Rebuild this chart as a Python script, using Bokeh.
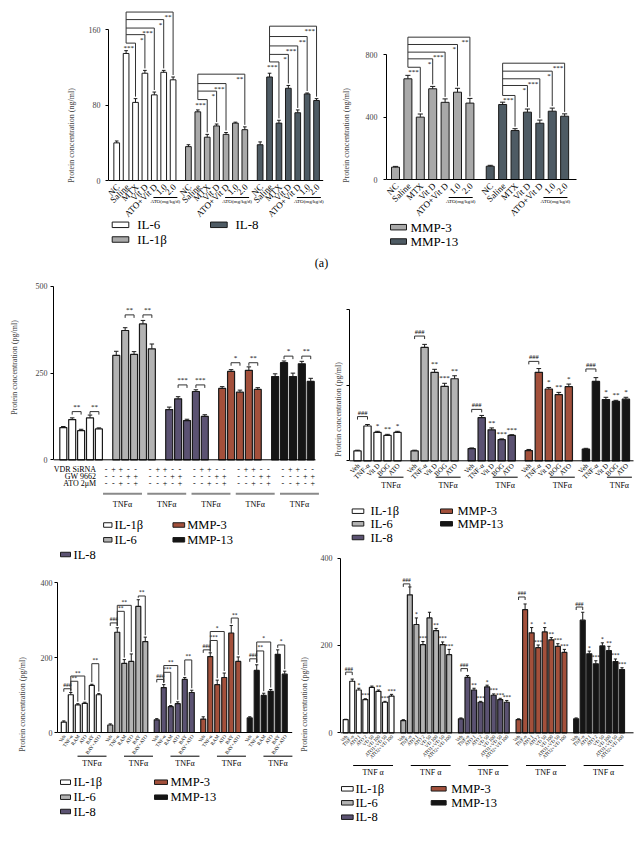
import numpy as np
from bokeh.plotting import figure
from bokeh.models import Range1d, LinearAxis, FixedTicker
from bokeh.layouts import row, column
from bokeh.embed import file_html
from bokeh.resources import INLINE
from bokeh.core.properties import value

SERIF = "Liberation Serif"

# ---------------- DATA ----------------
# (a) left: ng/ml
a_cats = ["NC", "Saline", "MTX", "Vit D", "ATO+Vit D", "1.0", "2.0"]
a1_series = ["IL-6", "IL-1β", "IL-8"]
a1_vals = [[40, 135, 83, 114, 91, 115, 107],
           [36, 73, 46, 58, 49, 61, 54],
           [38, 110, 61, 98, 72, 92, 85]]
a1_errs = [[2, 3, 4, 3, 3, 2, 3],
           [2, 2, 3, 2, 2, 1, 3],
           [3, 4, 3, 3, 3, 1, 2]]
a1_targets = [[2, 3, 4, 5, 6], [2, 3, 4, 6], [2, 3, 4, 5, 6]]
a1_levels = [[146, 155, 162, 171, 179], [86, 95, 103, 113], [126, 134, 143, 153, 164]]
a1_marks = [["***", "*", "***", "*", "**"], ["***", "*", "***", "**"], ["***", "*", "***", "**", "***"]]
a_sub = "ATO(mg/kg/d)"

# (a) right: ng/ml
a2_series = ["MMP-3", "MMP-13"]
a2_vals = [[79, 646, 400, 582, 495, 560, 490],
           [85, 481, 314, 432, 361, 438, 406]]
a2_errs = [[5, 22, 20, 15, 22, 25, 30],
           [6, 15, 12, 20, 20, 20, 15]]
a2_targets = [[2, 3, 4, 5, 6], [2, 3, 4, 5, 6]]
a2_levels = [[720, 774, 817, 866, 913], [539, 603, 646, 695, 746]]
a2_marks = [["***", "*", "***", "*", "**"], ["***", "*", "***", "*", "***"]]

b_series = ["IL-1β", "IL-6", "IL-8", "MMP-3", "MMP-13"]

# (b) top-left
b1_rows = ["VDR SiRNA", "GW 9662", "ATO 2μM"]
b1_signs = [["-", "+", "+", "-", "-"],
            ["-", "-", "-", "+", "+"],
            ["-", "-", "+", "-", "+"]]
b1_vals = [[93, 116, 84, 121, 89],
           [301, 373, 304, 392, 320],
           [145, 176, 113, 197, 125],
           [206, 255, 195, 258, 203],
           [240, 280, 240, 277, 226]]
b1_errs = [[3, 5, 4, 8, 3],
           [12, 8, 8, 10, 14],
           [7, 6, 4, 5, 5],
           [5, 5, 6, 10, 5],
           [8, 5, 10, 7, 9]]
b1_levels = [139, 418, 216, 280, 299]
b1_marks = [["**", "**"], ["**", "**"], ["***", "***"], ["*", "**"], ["*", "**"]]

# (b) top-right
b2_cats = ["Veh", "TNF-α", "Vit D", "BOG", "ATO"]
b2_vals = [[26, 92, 75, 67, 75],
           [26, 300, 234, 197, 217],
           [32, 114, 82, 56, 67],
           [27, 234, 190, 175, 196],
           [31, 210, 162, 157, 163]]
b2_errs = [[2, 4, 3, 3, 3],
           [2, 8, 8, 8, 8],
           [2, 6, 5, 2, 2],
           [3, 10, 4, 6, 7],
           [2, 10, 6, 3, 5]]
b2_levels = [117, 330, 136, 263, 243]
b2_marks = [["*", "**", "*"], ["**", "***", "**"], ["**", "***", "***"], ["*", "**", "*"], ["*", "**", "*"]]

# (b) bottom-left
b3_cats = ["Veh", "TNF-α", "RAM", "ATO", "BAY", "BAY+ATO"]
b3_vals = [[28, 101, 74, 78, 126, 101],
           [20, 268, 185, 190, 337, 243],
           [34, 120, 69, 77, 142, 107],
           [36, 203, 128, 147, 266, 190],
           [39, 166, 99, 110, 209, 156]]
b3_errs = [[3, 6, 3, 3, 3, 3],
           [3, 12, 10, 20, 18, 12],
           [3, 8, 3, 5, 5, 6],
           [6, 10, 12, 12, 20, 12],
           [3, 15, 6, 5, 12, 8]]
b3_pairs = [(0, 1), (1, 2), (1, 3), (4, 5)]
b3_levels = [[117, 137, 151, 184], [293, 324, 340, 365], [142, 161, 179, 194],
             [221, 246, 270, 306], [197, 218, 242, 234]]
b3_marks = [["###", "**", "**", "**"], ["###", "**", "**", "**"], ["###", "***", "**", "**"],
            ["###", "***", "*", "**"], ["###", "**", "*", "*"]]

# (b) bottom-right
b4_cats = ["Veh", "TNF-α", "ATO 1", "ATO 2", "VD 50", "VD 100", "ATO1+VD 50", "ATO2+VD 100"]
b4_vals = [[30, 118, 98, 76, 104, 95, 70, 84],
           [28, 316, 248, 202, 263, 234, 202, 179],
           [32, 127, 98, 70, 105, 86, 76, 70],
           [30, 282, 229, 195, 231, 213, 198, 184],
           [32, 258, 181, 158, 199, 188, 163, 145]]
b4_errs = [[1, 5, 4, 2, 3, 3, 2, 4],
           [2, 18, 15, 7, 13, 5, 6, 12],
           [2, 4, 4, 2, 4, 3, 3, 4],
           [2, 13, 12, 6, 10, 5, 6, 7],
           [2, 18, 6, 7, 7, 10, 6, 4]]
b4_levels = [139, 341, 147, 311, 288]
b4_marks = [["*", "***", "", "**", "***", "***"],
            ["*", "***", "", "**", "***", "***"],
            ["**", "***", "*", "***", "***", "***"],
            ["*", "***", "*", "**", "***", "***"],
            ["*", "***", "*", "**", "***", "***"]]

# ---------------- STYLE ----------------
A_COLORS = ["#ffffff", "#a9a9a9", "#4e5b64"]
A2_COLORS = ["#a9a9a9", "#4e5b64"]
B_COLORS = ["#ffffff", "#b3b3b3", "#5b5272", "#a3503b", "#151515"]
EDGE = "#1a1a1a"
BR = "#333333"


class Panel:
    def __init__(self, fl, ft, W, H, ax, by, sy, sx, bx0, ticks=None, ylabel="",
                 lab_standoff=4, ax_standoff=8, show_labels=True):
        bl = int(round(ax - fl)) if ticks is not None else 0
        self.ax = fl + bl
        self.by, self.sy, self.sx, self.bx0 = by, sy, sx, bx0
        xr = Range1d((self.ax - bx0) / sx, (fl + W - bx0) / sx)
        yr = Range1d((by - (ft + H)) / sy, (by - ft) / sy)
        p = figure(width=W, height=H, x_range=xr, y_range=yr,
                   x_axis_location=None, y_axis_location=None,
                   toolbar_location=None, output_backend="svg",
                   min_border_left=bl, min_border_right=0,
                   min_border_top=0, min_border_bottom=0)
        p.outline_line_color = None
        p.grid.grid_line_color = None
        if ticks is not None:
            ax_ = LinearAxis(ticker=FixedTicker(ticks=ticks), bounds=(0, ticks[-1]),
                             axis_label=ylabel)
            ax_.major_tick_out = 3
            ax_.major_tick_in = 0
            ax_.minor_tick_out = 0
            ax_.minor_tick_in = 0
            ax_.axis_line_color = "black"
            ax_.major_tick_line_color = "black"
            ax_.major_label_text_font = SERIF
            ax_.major_label_text_font_size = "8px"
            ax_.major_label_standoff = lab_standoff
            ax_.axis_label_text_font = SERIF
            ax_.axis_label_text_font_size = "8px"
            ax_.axis_label_text_font_style = "normal"
            ax_.axis_label_standoff = ax_standoff
            if not show_labels:
                ax_.major_label_overrides = {t: "" for t in ticks}
            p.add_layout(ax_, "left")
        self.p = p

    def X(self, px):
        return (px - self.bx0) / self.sx

    def Y(self, py):
        return (self.by - py) / self.sy

    def dx(self, d):
        return d / self.sx

    def dy(self, d):
        return d / self.sy

    def seg(self, x0, y0, x1, y1, color=BR, width=1.0):
        self.p.segment(x0=list(x0), y0=list(y0), x1=list(x1), y1=list(y1),
                       line_color=color, line_width=width)

    def text(self, xs, ys, texts, size, align="center", baseline="middle", angle=0.0,
             color="black", style="normal"):
        self.p.text(x=list(xs), y=list(ys), text=list(texts), text_font=value(SERIF),
                    text_font_size=value(size), text_align=align, text_baseline=baseline,
                    angle=angle, text_color=color, text_font_style=style)

    def bars(self, xs, vals, errs, bw, color, lw=1.0):
        xs = np.asarray(xs, float)
        v = np.asarray(vals, float)
        e = np.asarray(errs, float)
        self.p.vbar(x=xs, top=v, bottom=0, width=self.dx(bw), fill_color=color,
                    line_color=EDGE, line_width=lw)
        self.p.segment(x0=xs, y0=v, x1=xs, y1=v + e, line_color=EDGE, line_width=1)
        cw = self.dx(bw * 0.32)
        self.p.segment(x0=xs - cw, y0=v + e, x1=xs + cw, y1=v + e, line_color=EDGE,
                       line_width=1)

    def baseline(self, right_px):
        self.seg([self.X(self.ax)], [0], [self.X(right_px)], [0], color="black")

    def legend(self, x0, x1, y, h, color, tx, label, size):
        self.p.rect(x=[self.X((x0 + x1) / 2)], y=[self.Y(y)], width=self.dx(x1 - x0),
                    height=self.dy(h), fill_color=color, line_color=EDGE, line_width=1)
        self.text([self.X(tx)], [self.Y(y)], [label], size, align="left")


def deg(a):
    return np.deg2rad(a)


# ================= (a) left =================
A1 = Panel(0, 0, 334, 270, 108, 180, 0.941, 9.4, 116.2, [0, 80, 160],
           "Protein concentration (ng/ml)", 5, 10)
step = 7.63
for g in range(3):
    xs = g * step + np.arange(7)
    A1.bars(xs, a1_vals[g], a1_errs[g], 5.7, A_COLORS[g])
    xa = xs[1]
    lv = a1_levels[g]
    for t, L, m in zip(a1_targets[g], lv, a1_marks[g]):
        xt = xs[t]
        tt = a1_vals[g][t] + a1_errs[g][t]
        A1.seg([xa, xt], [L, L], [xt, xt], [L, tt + A1.dy(2)])
        A1.text([xt - A1.dx(1.5)], [L - A1.dy(1)], [m], "7px", align="right", baseline="top")
    A1.seg([xa], [max(lv)], [xa], [min(lv)])
    A1.text(xs + A1.dx(1.5), [-A1.dy(5)] * 7, a_cats, "9px", align="right",
            baseline="middle", angle=deg(45))
    c = g * step + 5.5 - A1.dx(3)
    A1.seg([c - A1.dx(12)], [A1.Y(197)], [c + A1.dx(12)], [A1.Y(197)], color="black")
    A1.text([c], [A1.Y(198.5)], [a_sub], "5px", baseline="top")
A1.baseline(322.7)
A1.legend(111.7, 128.3, 224.3, 5.5, A_COLORS[0], 136.7, a1_series[0], "13px")
A1.legend(111.7, 128.3, 239.0, 5.5, A_COLORS[1], 136.7, a1_series[1], "13px")
A1.legend(210.0, 226.7, 224.3, 5.5, A_COLORS[2], 235.0, a1_series[2], "13px")
A1.text([A1.X(321)], [A1.Y(262)], ["(a)"], "12px")

# ================= (a) right =================
A2 = Panel(334, 0, 306, 270, 386, 179, 0.1559, 12.4, 395, [0, 400, 800],
           "Protein concentration (ng/ml)", 6, 12)
step = 7.64
for g in range(2):
    xs = g * step + np.arange(7)
    A2.bars(xs, a2_vals[g], a2_errs[g], 8, A2_COLORS[g])
    xa = xs[1]
    lv = a2_levels[g]
    for t, L, m in zip(a2_targets[g], lv, a2_marks[g]):
        xt = xs[t]
        tt = a2_vals[g][t] + a2_errs[g][t]
        A2.seg([xa, xt], [L, L], [xt, xt], [L, tt + A2.dy(2)])
        A2.text([xt - A2.dx(1.5)], [L - A2.dy(1)], [m], "7px", align="right", baseline="top")
    A2.seg([xa], [max(lv)], [xa], [min(lv)])
    A2.text(xs + A2.dx(1.5), [-A2.dy(5)] * 7, a_cats, "9px", align="right",
            baseline="middle", angle=deg(45))
    c = g * step + 5.5 - A2.dx(3)
    A2.seg([c - A2.dx(12)], [A2.Y(197)], [c + A2.dx(12)], [A2.Y(197)], color="black")
    A2.text([c], [A2.Y(198.5)], [a_sub], "5px", baseline="top")
A2.baseline(576)
A2.legend(390, 406, 226.7, 5.5, A2_COLORS[0], 410, a2_series[0], "13px")
A2.legend(390, 406, 241.0, 5.5, A2_COLORS[1], 410, a2_series[1], "13px")

# ================= (b) top-left (bars + axis) =================
B1 = Panel(0, 270, 322, 194, 53, 459.3, 0.3467, 8.9, 62.8, [0, 250, 500],
           "Protein concentration (pg/ml)", 3, 14)
# table / legend part under it (same horizontal scale, no axis)
B1b = Panel(0, 464, 322, 84, 0, 459.3, 0.3467, 8.9, 62.8)
step = 5.95
row_y = [468.5, 475.5, 482.5]
for g in range(5):
    xs = g * step + np.arange(5)
    B1.bars(xs, b1_vals[g], b1_errs[g], 7, B_COLORS[g], lw=1.2)
    L = b1_levels[g]
    for (a, b), m in zip([(1, 2), (3, 4)], b1_marks[g]):
        B1.seg([xs[a], xs[a], xs[b]], [L, L, L], [xs[b], xs[a], xs[b]],
               [L, L - B1.dy(3), L - B1.dy(3)])
        B1.text([(xs[a] + xs[b]) / 2], [L + B1.dy(1)], [m], "7px", baseline="bottom")
    for r in range(3):
        B1b.text(xs, [B1b.Y(row_y[r])] * 5, b1_signs[r], "8px")
    B1b.seg([xs[0] - B1b.dx(3.5)], [B1b.Y(493.3)], [xs[-1] + B1b.dx(7.5)], [B1b.Y(493.3)],
            color="#8a8a8a", width=2)
    B1b.text([(xs[0] + xs[-1]) / 2 + B1b.dx(2)], [B1b.Y(503.7)], ["TNFα"], "8px")
B1b.text([B1b.X(51)] * 3, [B1b.Y(y) for y in row_y], b1_rows, "8px", align="right")
B1.baseline(315)
B1b.legend(60, 70, 524.5, 4.5, B_COLORS[0], 73, b_series[0], "12.5px")
B1b.legend(60, 70, 539.3, 4.5, B_COLORS[1], 73, b_series[1], "12.5px")
B1b.legend(143, 157, 524.5, 4.5, B_COLORS[3], 160, b_series[3], "12.5px")
B1b.legend(143, 157, 539.3, 4.5, B_COLORS[4], 160, b_series[4], "12.5px")

# ================= (b) top-right =================
B2 = Panel(322, 270, 318, 278, 349, 460.3, 0.378, 10.0, 357, [0, 200, 400],
           "Protein concentration (pg/ml)", 2, 4, show_labels=False)
step = 5.71
for g in range(5):
    xs = g * step + np.arange(5)
    B2.bars(xs, b2_vals[g], b2_errs[g], 7.3, B_COLORS[g], lw=1.2)
    L = b2_levels[g]
    B2.seg([xs[0], xs[0], xs[1]], [L, L, L], [xs[1], xs[0], xs[1]],
           [L, L - B2.dy(3), L - B2.dy(3)])
    B2.text([(xs[0] + xs[1]) / 2], [L + B2.dy(1)], ["###"], "6.5px", baseline="bottom")
    for k, m in enumerate(b2_marks[g]):
        i = k + 2
        B2.text([xs[i]], [b2_vals[g][i] + b2_errs[g][i] + B2.dy(1)], [m], "7px",
                baseline="bottom")
    B2.text(xs + B2.dx(1.5), [-B2.dy(4)] * 5, b2_cats, "7px", align="right",
            baseline="middle", angle=deg(45))
    B2.seg([g * step + 2.1], [B2.Y(476.7)], [g * step + 4.6], [B2.Y(476.7)], color="black")
    B2.text([g * step + 3.35], [B2.Y(485)], ["TNFα"], "8px")
B2.baseline(633)
B2.legend(351.7, 363.3, 510.7, 4.5, B_COLORS[0], 370, b_series[0], "12.5px")
B2.legend(351.7, 363.3, 523.3, 4.5, B_COLORS[1], 370, b_series[1], "12.5px")
B2.legend(351.7, 363.3, 537.0, 4.5, B_COLORS[2], 370, b_series[2], "12.5px")
B2.legend(440, 452, 510.7, 4.5, B_COLORS[3], 457, b_series[3], "12.5px")
B2.legend(440, 452, 523.3, 4.5, B_COLORS[4], 457, b_series[4], "12.5px")

# ================= (b) bottom-left =================
B3 = Panel(0, 548, 296, 312, 57, 732, 0.374, 7.0, 63.3, [0, 200, 400],
           "Protein concentration (pg/ml)", 2, 11)
step = 6.64
for g in range(5):
    xs = g * step + np.arange(6)
    B3.bars(xs, b3_vals[g], b3_errs[g], 5, B_COLORS[g], lw=1.2)
    tops = np.asarray(b3_vals[g]) + np.asarray(b3_errs[g])
    for (a, b), L, m in zip(b3_pairs, b3_levels[g], b3_marks[g]):
        if a == 0:
            B3.seg([xs[a], xs[a], xs[b]], [L, L, L], [xs[b], xs[a], xs[b]],
                   [L, L - B3.dy(3), L - B3.dy(3)])
        else:
            B3.seg([xs[a], xs[a], xs[b]], [L, L, L], [xs[b], xs[a], xs[b]],
                   [L, tops[a] + B3.dy(2), tops[b] + B3.dy(2)])
        B3.text([(xs[a] + xs[b]) / 2], [L + B3.dy(0.5)], [m], "5.5px", baseline="bottom")
    B3.text(xs + B3.dx(1), [-B3.dy(3)] * 6, b3_cats, "5px", align="right",
            baseline="middle", angle=deg(55))
    B3.seg([g * step + 1.96], [B3.Y(755.7)], [g * step + 6.1], [B3.Y(755.7)], color="black")
    B3.text([g * step + 4.03], [B3.Y(763)], ["TNFα"], "8px")
B3.baseline(291.7)
B3.legend(60, 70, 554, 4.5, B_COLORS[2], 73, b_series[2], "12.5px")
for k, yy in enumerate([781.7, 796.7, 811.0]):
    B3.legend(60, 70, yy, 4.5, B_COLORS[k], 73, b_series[k], "12.5px")
B3.legend(154, 167, 781.7, 4.5, B_COLORS[3], 170, b_series[3], "12.5px")
B3.legend(154, 167, 796.7, 4.5, B_COLORS[4], 170, b_series[4], "12.5px")

# ================= (b) bottom-right =================
B4 = Panel(296, 548, 344, 312, 339, 732.3, 0.4367, 6.57, 344.2, [0, 200, 400],
           "Protein concentration (pg/ml)", 5, 9)
step = 8.8
for g in range(5):
    xs = g * step + np.arange(8)
    B4.bars(xs, b4_vals[g], b4_errs[g], 5, B_COLORS[g], lw=1.2)
    L = b4_levels[g]
    B4.seg([xs[0], xs[0], xs[1]], [L, L, L], [xs[1], xs[0], xs[1]],
           [L, L - B4.dy(3), L - B4.dy(3)])
    B4.text([(xs[0] + xs[1]) / 2], [L + B4.dy(0.5)], ["###"], "5.5px", baseline="bottom")
    for k, m in enumerate(b4_marks[g]):
        i = k + 2
        if m:
            B4.text([xs[i]], [b4_vals[g][i] + b4_errs[g][i] + B4.dy(0.5)], [m], "5.5px",
                    baseline="bottom")
    B4.text(xs + B4.dx(1), [-B4.dy(3)] * 8, b4_cats, "5px", align="right",
            baseline="middle", angle=deg(45))
    B4.seg([g * step + 1.14], [B4.Y(765)], [g * step + 7.23], [B4.Y(765)], color="black")
    B4.text([g * step + 4.19], [B4.Y(772.3)], ["TNF α"], "8px")
B4.baseline(633)
for k, yy in enumerate([788.3, 802.3, 816.7]):
    B4.legend(340, 351.7, yy, 4.5, B_COLORS[k], 354, b_series[k], "12.5px")
B4.legend(430, 445, 788.3, 4.5, B_COLORS[3], 450, b_series[3], "12.5px")
B4.legend(430, 445, 802.3, 4.5, B_COLORS[4], 450, b_series[4], "12.5px")
B4.text([B4.X(321)], [B4.Y(846)], ["(b)"], "12px")

layout = column(row(A1.p, A2.p),
                row(column(B1.p, B1b.p), B2.p),
                row(B3.p, B4.p))
open("out.html", "w").write(file_html(layout, INLINE))
